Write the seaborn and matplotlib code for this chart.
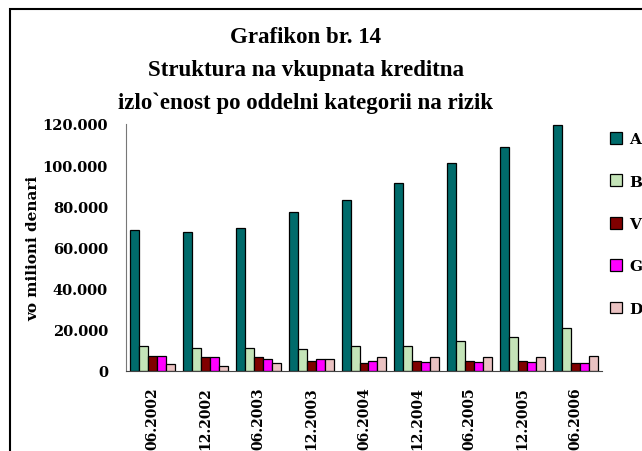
"""
Grafikon br. 14 - struktura na kreditnata izlozenost po kategorii na rizik
"""
import pandas as pd
import matplotlib
matplotlib.use('Agg')
import matplotlib.pyplot as plt
import seaborn as sns
from matplotlib.patches import Rectangle
from matplotlib.ticker import FuncFormatter, FixedLocator

# data (vo milioni denari)
periods = ['06.2002', '12.2002', '06.2003', '12.2003', '06.2004',
           '12.2004', '06.2005', '12.2005', '06.2006']
cat_a = [68700, 67700, 69500, 77400, 83200, 91300, 101000, 108900, 119500]
cat_b = [12200, 11300, 11300, 10600, 12200, 12200, 14700, 16300, 21100]
cat_v = [7200, 6600, 6600, 5000, 3900, 5000, 5000, 5000, 3900]
cat_g = [7200, 6600, 5800, 5800, 5000, 4200, 4200, 4200, 3900]
cat_d = [3200, 2600, 4000, 5800, 6600, 6600, 6600, 6600, 7200]
categories = ['A', 'B', 'V', 'G', 'D']
colors = ['#006b6b', '#c4e4b8', '#800000', '#ff00ff', '#eac2c2']

title_lines = ['Grafikon br. 14',
               'Struktura na vkupnata kreditna',
               'izlo`enost po oddelni kategorii na rizik']

df = pd.DataFrame({'Period': periods * 5,
                   'Kategorija': [c for c in categories for _ in periods],
                   'Vrednost': cat_a + cat_b + cat_v + cat_g + cat_d})

sns.set_style('white')
plt.rcParams['font.family'] = ['DejaVu Serif']
plt.rcParams['font.weight'] = 'bold'
for key in ['text.color', 'axes.labelcolor', 'xtick.color', 'ytick.color']:
    plt.rcParams[key] = 'black'

fig = plt.figure(figsize=(6.42, 4.52), dpi=100)
ax = fig.add_axes([126 / 642, 80 / 452, 476 / 642, 247 / 452])

sns.barplot(data=df, x='Period', y='Vrednost', hue='Kategorija',
            palette=colors, width=0.85, saturation=1,
            edgecolor='black', linewidth=0.9, ax=ax)

ax.set_ylim(0, 120000)
ax.set_xlim(-0.5, len(periods) - 0.5)
ax.set_yticks(range(0, 120001, 20000))
ax.yaxis.set_major_formatter(FuncFormatter(lambda v, p: f'{v:,.0f}'.replace(',', '.')))
ax.tick_params(axis='y', direction='out', length=6, width=1, color='#666666',
               pad=7, labelsize=10.5)
ax.tick_params(axis='x', which='major', length=0, pad=11, labelsize=10,
               labelrotation=90)
ax.xaxis.set_minor_locator(FixedLocator([i - 0.5 for i in range(len(periods) + 1)]))
ax.tick_params(axis='x', which='minor', direction='out', length=5, width=1,
               color='#444444')
for lab in ax.get_xticklabels() + ax.get_yticklabels():
    lab.set_fontweight('bold')
for lab in ax.get_xticklabels():
    lab.set_va('top')

ax.set_xlabel('')
ax.set_ylabel('vo milioni denari', fontsize=11, fontweight='bold')
ax.yaxis.set_label_coords(-0.18, 0.5)

sns.despine(ax=ax)
ax.spines['left'].set_color('#777777')
ax.spines['bottom'].set_color('#444444')

sns.move_legend(ax, 'upper left', bbox_to_anchor=(610 / 642, 1 - 133 / 452),
                bbox_transform=fig.transFigure, frameon=False, title=None,
                fontsize=11, handlelength=0.8, handleheight=0.8,
                handletextpad=0.45, labelspacing=1.85, borderpad=0,
                borderaxespad=0)
for t in ax.get_legend().get_texts():
    t.set_fontweight('bold')

# titles
for i, line in enumerate(title_lines):
    fig.text(306 / 642, 1 - (43 + 33 * i) / 452, line, ha='center', va='baseline',
             fontsize=16.5, fontweight='bold', color='black',
             family=['Liberation Serif'])

# outer frame (runs off the right and bottom of the image)
fig.patches.append(Rectangle((9.5 / 642, -0.2), 1.0, 1 - 10 / 452 + 0.2,
                             transform=fig.transFigure, fill=False,
                             edgecolor='black', linewidth=1.5))

fig.savefig('out.png', dpi=100)
plt.close(fig)
